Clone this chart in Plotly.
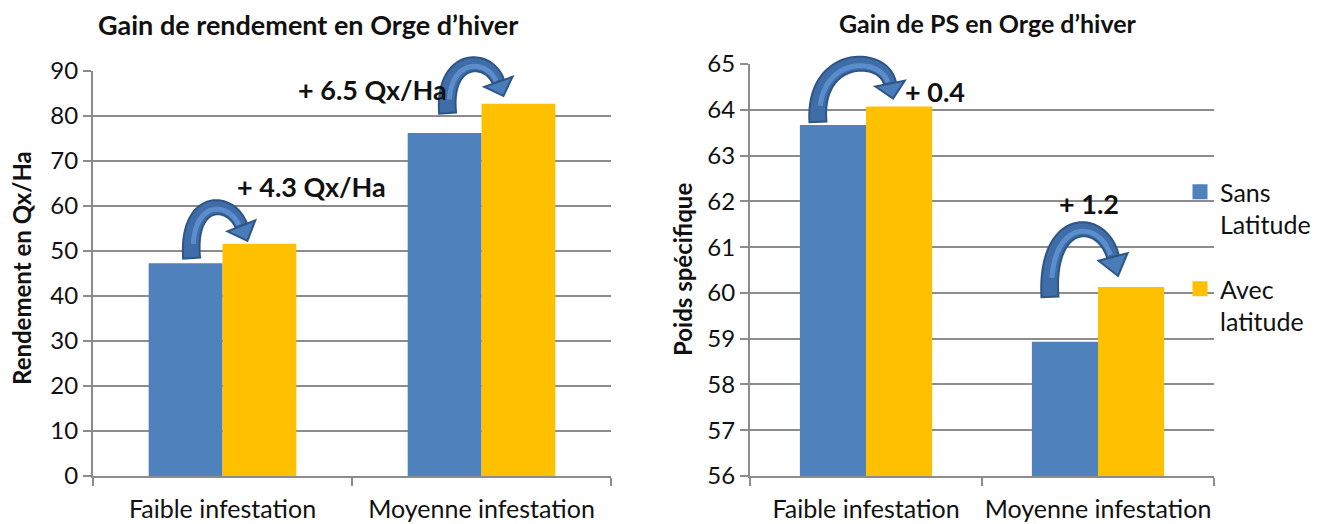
import plotly.graph_objects as go
import numpy as np

# ---------------- data ----------------
categories = ["Faible infestation", "Moyenne infestation"]
series_names = ["Sans<br>Latitude", "Avec<br>latitude"]
rendement_sans = [47.3, 76.2]
rendement_avec = [51.6, 82.7]
ps_sans = [63.67, 58.93]
ps_avec = [64.07, 60.13]
gain_labels_rendement = ["+ 4.3 Qx/Ha", "+ 6.5 Qx/Ha"]
gain_labels_ps = ["+ 0.4", "+ 1.2"]
titles = ["Gain de rendement en Orge d\u2019hiver", "Gain de PS en Orge d\u2019hiver"]
ytitles = ["Rendement en Qx/Ha", "Poids spécifique"]
left_range = [0, 90]
right_range = [56, 65]

# ---------------- style ----------------
OFF = 8                      # default page body margin
W, H = 1320 - OFF, 524 - OFF
BLUE = "#4F81BD"
GOLD = "#FFC000"
GRID = "#8C8C8C"
FONT = "Lato"
TXT = "#111111"
BARGAP = 0.43

# pixel layout (page coords) of the two plot areas
L_X = (93, 611); L_Y = (71, 476)
R_X = (750, 1214); R_Y = (64, 476)

def fx(x):
    return (x - OFF) / W

def fy(y):
    return 1 - (y - OFF) / H

def dom_x(p):
    return [fx(p[0]), fx(p[1])]

def dom_y(p):
    return [fy(p[1]), fy(p[0])]

fig = go.Figure()
fig.add_trace(go.Bar(x=categories, y=rendement_sans, name=series_names[0], marker_color=BLUE,
                     marker_line_width=0, xaxis="x", yaxis="y", showlegend=False))
fig.add_trace(go.Bar(x=categories, y=rendement_avec, name=series_names[1], marker_color=GOLD,
                     marker_line_width=0, xaxis="x", yaxis="y", showlegend=False))
fig.add_trace(go.Bar(x=categories, y=ps_sans, name=series_names[0], marker_color=BLUE,
                     marker_line_width=0, xaxis="x2", yaxis="y2", showlegend=False))
fig.add_trace(go.Bar(x=categories, y=ps_avec, name=series_names[1], marker_color=GOLD,
                     marker_line_width=0, xaxis="x2", yaxis="y2", showlegend=False))
# legend entries (square swatches)
for nm, col, grp in [(series_names[0], BLUE, "a"), (series_names[1], GOLD, "b")]:
    fig.add_trace(go.Scatter(x=[None], y=[None], mode="markers", name=nm, legendgroup=grp,
                             marker=dict(symbol="square", size=15, color=col),
                             xaxis="x2", yaxis="y2", showlegend=True))

tickfont = dict(family=FONT, size=25, color=TXT)
xcommon = dict(type="category", showgrid=False, showline=True, linecolor=GRID, linewidth=2,
               ticks="outside", tickson="boundaries", ticklen=8, tickcolor=GRID, tickwidth=2,
               tickfont=tickfont, tickangle=0, fixedrange=True, automargin=False,
               ticklabelstandoff=10)
ycommon = dict(showgrid=True, gridcolor=GRID, gridwidth=2, showline=True, linecolor=GRID, linewidth=2,
               ticks="outside", ticklen=8, tickcolor=GRID, tickwidth=2,
               tickfont=dict(tickfont, size=24),
               zeroline=False, fixedrange=True, automargin=False)

fig.update_layout(
    width=W, height=H,
    margin=dict(l=0, r=0, t=0, b=0, pad=0),
    paper_bgcolor="white", plot_bgcolor="white",
    barmode="group", bargap=BARGAP, bargroupgap=0,
    xaxis=dict(xcommon, domain=dom_x(L_X), anchor="y"),
    yaxis=dict(ycommon, domain=dom_y(L_Y), anchor="x", range=left_range, dtick=10),
    xaxis2=dict(xcommon, domain=dom_x(R_X), anchor="y2"),
    yaxis2=dict(ycommon, domain=dom_y(R_Y), anchor="x2", range=right_range, dtick=1),
    legend=dict(x=fx(1180), y=fy(169), xanchor="left", yanchor="top",
                font=dict(family=FONT, size=25, color=TXT), tracegroupgap=29,
                valign="top", bgcolor="rgba(0,0,0,0)", itemwidth=30),
    showlegend=True,
)

annots = []
def text(s, x, y, size, bold=False, angle=0):
    annots.append(dict(text=("<b>" + s + "</b>") if bold else s, x=fx(x), y=fy(y),
                       xref="paper", yref="paper", xanchor="center", yanchor="middle",
                       showarrow=False, textangle=angle,
                       font=dict(family=FONT, size=size, color=TXT)))

# titles
text(titles[0], 308, 24, 27, bold=True)
text(titles[1], 988, 23, 25, bold=True)
# y titles
text(ytitles[0], 21, 268, 24, bold=True, angle=-90)
text(ytitles[1], 682, 270, 24, bold=True, angle=-90)

# ---- helpers mapping data -> pixel ----
def bar_centers(xr, i):
    cw = (xr[1] - xr[0]) / len(categories)
    c = xr[0] + (i + 0.5) * cw
    gw = cw * (1 - BARGAP)
    return c - gw / 4, c + gw / 4

def ypix(yr, rng, v):
    return yr[1] - (v - rng[0]) / (rng[1] - rng[0]) * (yr[1] - yr[0])

def P(x, y):
    return f"{fx(x):.5f},{fy(y):.5f}"

shapes = []

def bez(p0, p1, p2, p3, t):
    t = t[:, None]
    return ((1 - t) ** 3) * p0 + 3 * ((1 - t) ** 2) * t * p1 + 3 * (1 - t) * t * t * p2 + t ** 3 * p3

def arrow(tail, base, tip, top_y, w0=17, w1=12, hw=15):
    p0 = np.array(tail, float); p3 = np.array(base, float); tp = np.array(tip, float)
    d = tp - p3; d = d / np.hypot(*d)
    mid_y = top_y + w0 / 2
    q = (mid_y - 0.125 * (p0[1] + p3[1])) / 0.75
    p1 = np.array([p0[0] - 5, q])
    k = (p3[1] - q) / max(d[1], 0.3)
    p2 = np.array([p3[0] - d[0] * k, q])
    t = np.linspace(0, 1, 48)
    pts = bez(p0, p1, p2, p3, t)
    tang = np.gradient(pts, axis=0)
    tang /= np.hypot(tang[:, 0], tang[:, 1])[:, None]
    nrm = np.stack([-tang[:, 1], tang[:, 0]], axis=1)
    wid = (w0 + (w1 - w0) * t)[:, None] / 2
    side1 = pts + nrm * wid
    side2 = pts - nrm * wid
    poly = np.vstack([side1, side2[::-1]])
    path = "M" + " L".join(P(x, y) for x, y in poly) + " Z"
    shapes.append(dict(type="path", path=path, xref="paper", yref="paper",
                       fillcolor="#3F6DA8", line=dict(color="#2E5585", width=2)))
    # lighter stripe for the shaded look
    inner = pts[4:-1] + nrm[4:-1] * 2.0
    ipath = "M" + " L".join(P(x, y) for x, y in inner)
    shapes.append(dict(type="path", path=ipath, xref="paper", yref="paper",
                       line=dict(color="#5B8DCC", width=5)))
    # head
    n = np.array([-d[1], d[0]])
    b1 = p3 + n * hw
    b2 = p3 - n * hw
    head = f"M{P(*b1)} L{P(*tp)} L{P(*b2)} Z"
    shapes.append(dict(type="path", path=head, xref="paper", yref="paper",
                       fillcolor="#4A7CB9", line=dict(color="#2E5585", width=2)))

# arrows & gain labels, anchored on bar tops (pixel offsets from blue / yellow bar tops)
arrow_offsets_left = [dict(tail=(6, -5), base=(-18, -18), tip=(-12, -3), top=-44),
                      dict(tail=(3, -20), base=(-20, -22), tip=(-15, -8), top=-47)]
arrow_offsets_right = [dict(tail=(-15, -3), base=(-9, -23), tip=(-6, -8), top=-50),
                       dict(tail=(-15, -45), base=(-18, -30), tip=(-13, -11), top=-65)]
label_offsets_left = [(52, -57), (-146, -14)]
label_offsets_right = [(36, -15), (-42, -83)]

for xr, yr, rng, s_vals, a_vals, labels, aoffs, loffs in [
        (L_X, L_Y, left_range, rendement_sans, rendement_avec, gain_labels_rendement,
         arrow_offsets_left, label_offsets_left),
        (R_X, R_Y, right_range, ps_sans, ps_avec, gain_labels_ps,
         arrow_offsets_right, label_offsets_right)]:
    for i in range(len(categories)):
        bx, ax_ = bar_centers(xr, i)
        by = ypix(yr, rng, s_vals[i]); ay = ypix(yr, rng, a_vals[i])
        o = aoffs[i]
        tail = (bx + o["tail"][0], by + o["tail"][1])
        base = (ax_ + o["base"][0], ay + o["base"][1])
        tip = (ax_ + o["tip"][0], ay + o["tip"][1])
        top_y = min(by, ay) + o["top"]
        arrow(tail, base, tip, top_y)
        text(labels[i], ax_ + loffs[i][0], ay + loffs[i][1], 27, bold=True)

fig.update_layout(annotations=annots, shapes=shapes)
fig.write_html("out.html")
